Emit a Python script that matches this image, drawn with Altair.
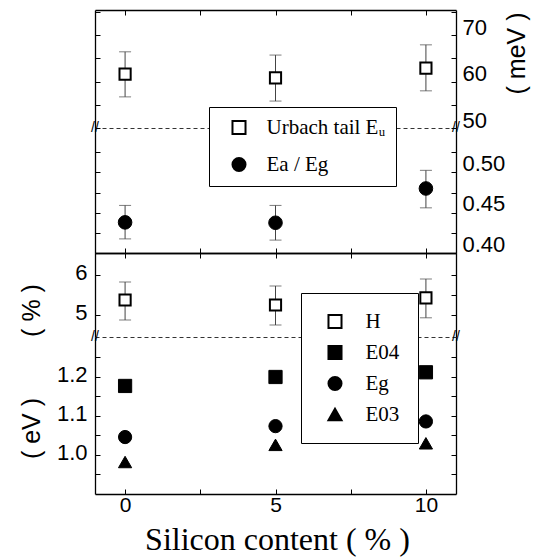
import altair as alt
import pandas as pd

# ---------------- data ----------------
silicon = [0, 5, 10]
urbach = [61.6, 60.8, 62.9]
urbach_low = [56.7, 55.8, 58.0]
urbach_high = [66.4, 65.7, 67.9]
ratio = [0.438, 0.4375, 0.480]
ratio_low = [0.4175, 0.416, 0.456]
ratio_high = [0.459, 0.459, 0.5025]
hydrogen = [5.375, 5.25, 5.43]
hydrogen_low = [4.875, 4.75, 4.93]
hydrogen_high = [5.825, 5.725, 5.90]
e04 = [1.177, 1.200, 1.212]
eg = [1.046, 1.074, 1.086]
e03 = [0.982, 1.026, 1.030]

x_ticks = [0, 2.5, 5, 7.5, 10]
mev_ticks = [50, 55, 60, 65, 70, 75]
ratio_ticks = [0.40, 0.425, 0.45, 0.475, 0.50, 0.525]
h_ticks = [5, 5.5, 6]
ev_ticks = [0.95, 1.0, 1.05, 1.1, 1.15, 1.2, 1.25]
top_names = ["Urbach tail E\u1d64\u00a0\u00a0\u00a0", "Ea / Eg"]
bottom_names = ["H", "E04", "Eg", "E03"]

# ---------------- styling helpers ----------------
W = 361
SANS = "Liberation Sans"
SERIF = "Liberation Serif"
INWARD = {"expr": "-5"}
XS = alt.Scale(domain=[-1, 11], nice=False, zero=False)


def frame(values, low, high, label):
    return pd.DataFrame({"x": silicon, "v": values, "lo": low, "hi": high, "series": label})


def x_axis(orient, kind):
    if kind == "dashed":
        return alt.Axis(orient=orient, domain=True, domainDash=[4, 3], domainColor="#333",
                        domainWidth=1, ticks=False, labels=False, grid=False, title=None)
    kw = dict(orient=orient, values=x_ticks, domain=True, domainColor="black", domainWidth=1.3,
              ticks=True, tickSize=INWARD, tickColor="black", tickWidth=1, grid=False)
    if kind == "ticks":
        return alt.Axis(labels=False, title=None, **kw)
    test = "datum.value % 5 == 0"
    return alt.Axis(labels=True, labelExpr=f"{test} ? datum.label : ''",
                    labelFontSize={"condition": {"test": test, "value": 21}, "value": 0},
                    labelFont=SANS, labelColor="black", labelPadding=5,
                    labelOverlap=False, labelFlush=False,
                    title="Silicon content ( % )", titleFont=SERIF, titleFontSize=32,
                    titleFontWeight="normal", titleColor="black", titleBaseline="alphabetic",
                    titleAlign="center", titleX=182, titleY=55, **kw)


def y_axis(orient, values, labeled=False, fmt=None, test=None, offset=0.0, pad=11,
           title=None, tx=0, ty=0):
    kw = dict(orient=orient, values=values, domain=True, domainColor="black", domainWidth=1.3,
              ticks=True, tickSize=INWARD, tickColor="black", tickWidth=1, grid=False)
    if not labeled:
        return alt.Axis(labels=False, title=None, **kw)
    extra = {}
    if fmt:
        extra["format"] = fmt
    if title:
        extra.update(title=title, titleFont=SANS, titleFontSize=25, titleFontWeight="normal",
                     titleColor="black", titleAngle=270, titleAlign="center",
                     titleBaseline="middle", titleX=tx, titleY=ty)
    else:
        extra["title"] = None
    return alt.Axis(labels=True, labelExpr=f"{test} ? datum.label : ''",
                    labelFontSize={"condition": {"test": test, "value": 22}, "value": 0},
                    labelFont=SANS, labelColor="black", labelPadding=pad, labelOffset=offset,
                    labelOverlap=False, labelFlush=False, **kw, **extra)


def err_layers(df, ys, x_ax, y_ax):
    bars = alt.Chart(df).mark_rule(color="#444", strokeWidth=1).encode(
        x=alt.X("x:Q", scale=XS, axis=x_ax),
        y=alt.Y("lo:Q", scale=ys, axis=y_ax),
        y2="hi:Q",
    )
    caps = []
    for col in ("lo", "hi"):
        caps.append(alt.Chart(df).mark_tick(orient="horizontal", size=12, thickness=1, color="#444").encode(
            x=alt.X("x:Q", scale=XS, axis=None),
            y=alt.Y(f"{col}:Q", scale=ys, axis=None),
        ))
    return [bars] + caps


def break_marks(value, ys):
    brk = pd.DataFrame({"x": [-1, 11], "y": [value, value]})
    return alt.Chart(brk).mark_text(text="//", font=SANS, fontSize=14, color="black").encode(
        x=alt.X("x:Q", scale=XS, axis=None),
        y=alt.Y("y:Q", scale=ys, axis=None),
    )


def legend(x, y, pad, sym_off, lab_off, row_pad):
    return alt.Legend(orient="none", legendX=x, legendY=y, direction="vertical", title=None,
                      padding=pad, strokeColor="black", fillColor="white", symbolSize=170,
                      symbolStrokeWidth=2, symbolOffset=sym_off, labelOffset=lab_off,
                      labelFont=SERIF, labelFontSize=21, labelColor="black", rowPadding=row_pad)


def legend_channels(names, shapes, fills, leg):
    return dict(
        shape=alt.Shape("series:N", scale=alt.Scale(domain=names, range=shapes), legend=leg),
        fill=alt.Fill("series:N", scale=alt.Scale(domain=names, range=fills), legend=leg),
        stroke=alt.Stroke("series:N", scale=alt.Scale(domain=names, range=["black"] * len(names)),
                          legend=leg),
    )


# ---------------- panel A: Urbach tail (meV) ----------------
ysA = alt.Scale(domain=[50, 75.4], nice=False, zero=False)
dfA = frame(urbach, urbach_low, urbach_high, top_names[0])
ptsA = alt.Chart(dfA).mark_point(shape="square", filled=True, fill="white", stroke="black",
                                 strokeWidth=2, size=125, opacity=1).encode(
    x=alt.X("x:Q", scale=XS, axis=x_axis("bottom", "dashed")),
    y=alt.Y("v:Q", scale=ysA, axis=y_axis("right", mev_ticks, True, fmt="d",
                                          test="datum.value % 10 == 0",
                                          offset=-8, title="( meV )", tx=60, ty=43)),
)
panelA = alt.layer(
    *err_layers(dfA, ysA, x_axis("top", "ticks"), y_axis("left", mev_ticks)),
    ptsA, break_marks(50, ysA),
).resolve_axis(x="independent", y="independent").properties(width=W, height=118)

# ---------------- panel B: Ea / Eg ----------------
ysB = alt.Scale(domain=[0.40, 0.555], nice=False, zero=False)
dfB = frame(ratio, ratio_low, ratio_high, top_names[1])
legB = legend(114, -21, 10, 9.5, 17, 14)
ptsB = alt.Chart(dfB).mark_point(filled=True, strokeWidth=1, size=185, opacity=1).encode(
    x=alt.X("x:Q", scale=XS, axis=None),
    y=alt.Y("v:Q", scale=ysB, axis=y_axis("right", ratio_ticks, True, fmt=".2f",
                                          test="abs(datum.value * 20 - round(datum.value * 20)) < 0.001",
                                          offset=-9)),
    **legend_channels(top_names, ["square", "circle"], ["white", "black"], legB),
)
panelB = alt.layer(
    *err_layers(dfB, ysB, x_axis("bottom", "ticks"), y_axis("left", ratio_ticks)),
    ptsB,
).resolve_axis(x="independent", y="independent").properties(width=W, height=125)

# ---------------- panel C: H (%) ----------------
ysC = alt.Scale(domain=[4.45, 6.55], nice=False, zero=False)
dfC = frame(hydrogen, hydrogen_low, hydrogen_high, bottom_names[0])
ptsC = alt.Chart(dfC).mark_point(shape="square", filled=True, fill="white", stroke="black",
                                 strokeWidth=2, size=125, opacity=1).encode(
    x=alt.X("x:Q", scale=XS, axis=x_axis("bottom", "dashed")),
    y=alt.Y("v:Q", scale=ysC, axis=y_axis("right", h_ticks)),
)
panelC = alt.layer(
    *err_layers(dfC, ysC, x_axis("top", "ticks"),
                y_axis("left", h_ticks, True, fmt="d", test="datum.value % 1 == 0",
                       offset=-2.5, pad=13, title="( % )", tx=-64, ty=57)),
    ptsC, break_marks(4.45, ysC),
).resolve_axis(x="independent", y="independent").properties(width=W, height=84)

# ---------------- panel D: energies (eV) ----------------
ysD = alt.Scale(domain=[0.90, 1.3025], nice=False, zero=False)
dfD = pd.concat([
    pd.DataFrame({"x": silicon, "v": e04, "series": "E04"}),
    pd.DataFrame({"x": silicon, "v": eg, "series": "Eg"}),
    pd.DataFrame({"x": silicon, "v": e03, "series": "E03"}),
], ignore_index=True)
legD = legend(206, -44, 18, 5.5, 20, 8)
ptsD = alt.Chart(dfD).mark_point(filled=True, strokeWidth=1, size=175, opacity=1).encode(
    x=alt.X("x:Q", scale=XS, axis=x_axis("bottom", "labeled")),
    y=alt.Y("v:Q", scale=ysD, axis=y_axis("left", ev_ticks, True, fmt=".1f",
                                          test="abs(datum.value * 10 - round(datum.value * 10)) < 0.001",
                                          offset=-2.5, pad=13, title="( eV )", tx=-64, ty=91)),
    **legend_channels(bottom_names, ["square", "square", "circle", "triangle-up"],
                      ["white", "black", "black", "black"], legD),
)
rightD = alt.Chart(pd.DataFrame({"x": [-1], "y": [1.3025]})).mark_text(text="//", font=SANS, fontSize=14,
                                                                        color="black").encode(
    x=alt.X("x:Q", scale=XS, axis=None),
    y=alt.Y("y:Q", scale=ysD, axis=y_axis("right", ev_ticks)),
    opacity=alt.value(0),
)
panelD = alt.layer(ptsD, rightD).resolve_axis(x="independent", y="independent").properties(width=W, height=157)

chart = alt.vconcat(panelA, panelB, panelC, panelD, spacing=0, bounds="flush").resolve_scale(
    shape="independent", fill="independent", stroke="independent"
).properties(
    padding={"left": 11, "top": -5, "right": 5, "bottom": 2}
).configure_view(stroke=None)

chart.save("out.html", embed_options={"renderer": "svg", "actions": False})
